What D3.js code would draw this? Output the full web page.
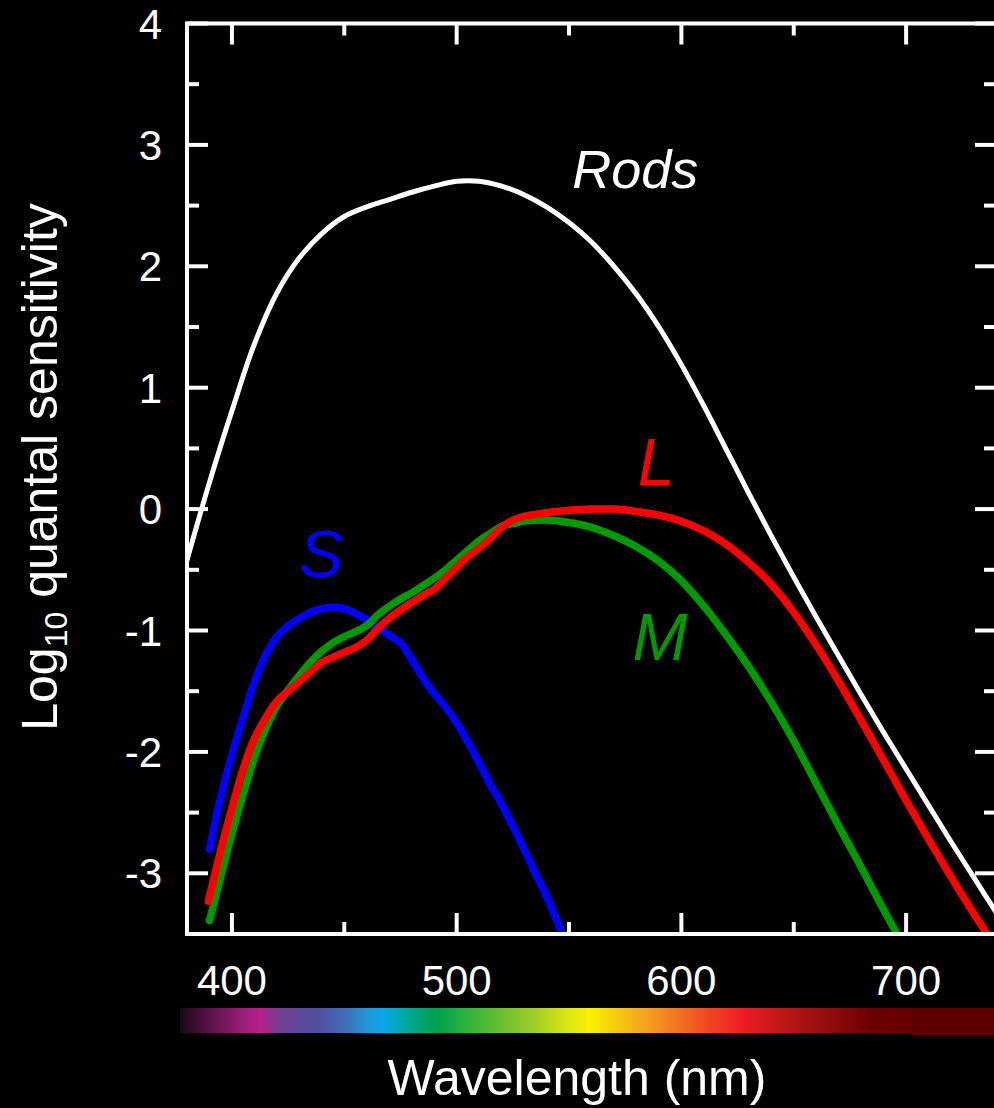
<!DOCTYPE html>
<html>
<head>
<meta charset="utf-8">
<script src="https://cdn.jsdelivr.net/npm/d3@7"></script>
<style>
  html, body { margin: 0; padding: 0; background: #000; }
  svg { display: block; }
  text { font-family: "Liberation Sans", Arial, Helvetica, sans-serif; fill: #fff; }
</style>
</head>
<body>
<svg id="chart" width="994" height="1108"></svg>
<script>
// Spectral sensitivity (log10 quantal) of rods and the three cone classes
const rodsNm  = [380, 390, 400, 410, 420, 430, 440, 450, 460, 470, 480, 490, 500, 510, 520, 530, 540, 550, 560, 570, 580, 590, 600, 610, 620, 630, 640, 650, 660, 670, 680, 690, 700, 710, 720, 730, 740];
const rodsLog = [-0.42, 0.22, 0.81, 1.36, 1.78, 2.07, 2.27, 2.41, 2.49, 2.55, 2.61, 2.66, 2.70, 2.70, 2.66, 2.59, 2.49, 2.36, 2.20, 2.00, 1.77, 1.50, 1.19, 0.85, 0.49, 0.13, -0.22, -0.56, -0.89, -1.21, -1.53, -1.84, -2.14, -2.44, -2.74, -3.03, -3.32];

const sNm  = [390, 395, 400, 405, 410, 415, 420, 425, 430, 435, 440, 445, 450, 455, 460, 465, 470, 475, 480, 485, 490, 495, 500, 505, 510, 515, 520, 525, 530, 535, 540, 547];
const sLog = [-2.80, -2.37, -2.02, -1.71, -1.42, -1.20, -1.05, -0.96, -0.90, -0.85, -0.82, -0.81, -0.82, -0.86, -0.91, -0.97, -1.04, -1.10, -1.24, -1.39, -1.52, -1.63, -1.76, -1.92, -2.09, -2.27, -2.43, -2.61, -2.80, -3.00, -3.19, -3.50];

const lNm  = [389.5, 395, 400, 405, 410, 415, 420, 425, 430, 435, 440, 445, 450, 455, 460, 465, 470, 475, 480, 485, 490, 495, 500, 505, 510, 515, 520, 525, 530, 540, 550, 560, 570, 580, 590, 600, 610, 620, 630, 640, 650, 660, 670, 680, 690, 700, 710, 720, 730, 736];
const lLog = [-3.23, -2.81, -2.46, -2.14, -1.89, -1.72, -1.58, -1.50, -1.42, -1.34, -1.26, -1.22, -1.18, -1.14, -1.08, -0.98, -0.90, -0.83, -0.77, -0.71, -0.66, -0.57, -0.48, -0.39, -0.32, -0.24, -0.15, -0.09, -0.06, -0.03, -0.01, 0.0, 0.0, -0.02, -0.05, -0.10, -0.18, -0.29, -0.44, -0.62, -0.85, -1.12, -1.42, -1.74, -2.07, -2.40, -2.72, -3.03, -3.33, -3.50];

const mNm  = [390, 395, 398, 400, 405, 410, 415, 420, 425, 430, 435, 440, 445, 450, 455, 460, 465, 470, 475, 480, 485, 490, 495, 500, 505, 510, 515, 520, 525, 530, 540, 550, 560, 570, 580, 590, 600, 610, 620, 630, 640, 650, 660, 670, 680, 690, 696];
const mLog = [-3.39, -3.03, -2.81, -2.67, -2.35, -2.05, -1.81, -1.62, -1.49, -1.37, -1.26, -1.17, -1.10, -1.05, -1.01, -0.96, -0.87, -0.80, -0.74, -0.69, -0.63, -0.57, -0.50, -0.42, -0.34, -0.26, -0.20, -0.14, -0.12, -0.10, -0.09, -0.11, -0.15, -0.22, -0.31, -0.43, -0.59, -0.80, -1.04, -1.30, -1.59, -1.91, -2.26, -2.61, -2.95, -3.30, -3.50];

// Axis ticks
const xMajorTicks = [400, 500, 600, 700];
const xMinorTicks = [450, 550, 650];
const yMajorTicks = [-3, -2, -1, 0, 1, 2, 3, 4];
const yMinorTicks = [-3.5, -2.5, -1.5, -0.5, 0.5, 1.5, 2.5, 3.5];

// Visible-spectrum colour strip (wavelength, colour)
const spectrumNm     = [376.9, 387.1, 402.3, 412.5, 421.4, 431.6, 439.2, 451.2, 461.5, 467.2, 479.3, 491.3, 501.5, 520.7, 535.8, 550.5, 559.4, 584.7, 599.4, 614.1, 627.5, 644.0, 666.2, 684.0, 702.7];
const spectrumColors = ["#1a0814", "#4c1040", "#901c70", "#b8208c", "#703f92", "#5a4a9c", "#5050a0", "#3c72ba", "#1c9cdc", "#08a8e8", "#00a890", "#00a04a", "#22b040", "#6cc030", "#a4d024", "#e0e810", "#f8f000", "#f5a020", "#f07020", "#f04020", "#ee1c24", "#c01818", "#900c0c", "#6c0000", "#680000"];
const spectrumTailNm = [702.7, 740];
const spectrumTailColor = "#5c0000";

const series = [
  { name: "Rods", nm: rodsNm, val: rodsLog, color: "#ffffff", width: 5 },
  { name: "S",    nm: sNm,    val: sLog,    color: "#0000ff", width: 7.5 },
  { name: "M",    nm: mNm,    val: mLog,    color: "#009a00", width: 7.5 },
  { name: "L",    nm: lNm,    val: lLog,    color: "#ff0000", width: 7.5 }
];

// Curve names, placed in data coordinates (label centre, baseline)
const curveLabels = [
  { text: "Rods", nm: 579.5, v: 2.645, color: "#ffffff", size: 54 },
  { text: "L",    nm: 588.7, v: 0.20,  color: "#ff0000", size: 66 },
  { text: "S",    nm: 439.6, v: -0.56, color: "#0000ff", size: 66 },
  { text: "M",    nm: 590.5, v: -1.24, color: "#009a00", size: 66 }
];

const svg = d3.select("#chart");
const W = 994, H = 1108;
svg.append("rect").attr("width", W).attr("height", H).attr("fill", "#000");

const x = d3.scaleLinear().domain([380, 740]).range([187, 996]);
const y = d3.scaleLinear().domain([-3.5, 4]).range([934, 23.5]);

const [x0, x1] = x.range();
const [yb, yt] = y.range();

// clip region for the curves
svg.append("defs").append("clipPath").attr("id", "plotClip")
  .append("rect").attr("x", x0).attr("y", yt).attr("width", x1 - x0).attr("height", yb - yt);

const line = d3.line()
  .x(d => x(d[0]))
  .y(d => y(d[1]))
  .curve(d3.curveCatmullRom.alpha(0.5));

const curves = svg.append("g").attr("clip-path", "url(#plotClip)");
series.forEach(s => {
  curves.append("path")
    .datum(s.nm.map((n, i) => [n, s.val[i]]))
    .attr("d", line)
    .attr("fill", "none")
    .attr("stroke", s.color)
    .attr("stroke-width", s.width)
    .attr("stroke-linejoin", "round")
    .attr("stroke-linecap", "round");
});

// frame
const axisColor = "#ffffff";
svg.append("rect")
  .attr("x", x0).attr("y", yt).attr("width", x1 - x0).attr("height", yb - yt)
  .attr("fill", "none").attr("stroke", axisColor).attr("stroke-width", 4);

const major = 21, minor = 12;
const ticks = svg.append("g").attr("stroke", axisColor).attr("stroke-width", 4);
function xTick(v, len) {
  ticks.append("line").attr("x1", x(v)).attr("x2", x(v)).attr("y1", yb).attr("y2", yb - len);
  ticks.append("line").attr("x1", x(v)).attr("x2", x(v)).attr("y1", yt).attr("y2", yt + len);
}
function yTick(v, len) {
  ticks.append("line").attr("x1", x0).attr("x2", x0 + len).attr("y1", y(v)).attr("y2", y(v));
  ticks.append("line").attr("x1", x1).attr("x2", x1 - len).attr("y1", y(v)).attr("y2", y(v));
}
xMajorTicks.forEach(v => xTick(v, major));
xMinorTicks.forEach(v => xTick(v, minor));
yMajorTicks.forEach(v => yTick(v, major));
yMinorTicks.forEach(v => yTick(v, minor));

// tick labels
svg.append("g").selectAll("text").data(xMajorTicks).join("text")
  .attr("x", d => x(d)).attr("y", 995)
  .attr("text-anchor", "middle").attr("font-size", 42)
  .text(d => d3.format("d")(d));

svg.append("g").selectAll("text").data(yMajorTicks).join("text")
  .attr("x", 162).attr("y", d => y(d)).attr("dy", "0.36em")
  .attr("text-anchor", "end").attr("font-size", 42)
  .text(d => d < 0 ? "-" + Math.abs(d) : String(d));

// spectrum strip
const grad = svg.select("defs").append("linearGradient")
  .attr("id", "spectrum").attr("gradientUnits", "userSpaceOnUse")
  .attr("x1", x(spectrumNm[0])).attr("x2", x(spectrumNm[spectrumNm.length - 1]))
  .attr("y1", 0).attr("y2", 0);
const span = spectrumNm[spectrumNm.length - 1] - spectrumNm[0];
spectrumNm.forEach((n, i) => {
  grad.append("stop").attr("offset", (n - spectrumNm[0]) / span).attr("stop-color", spectrumColors[i]);
});
svg.append("rect")
  .attr("x", x(spectrumNm[0])).attr("y", 1008)
  .attr("width", x(spectrumNm[spectrumNm.length - 1]) - x(spectrumNm[0]) + 0.5).attr("height", 25)
  .attr("fill", "url(#spectrum)");
svg.append("rect")
  .attr("x", x(spectrumTailNm[0])).attr("y", 1008)
  .attr("width", x(spectrumTailNm[1]) - x(spectrumTailNm[0])).attr("height", 27)
  .attr("fill", spectrumTailColor);

// axis titles
svg.append("text")
  .attr("x", 577).attr("y", 1095)
  .attr("text-anchor", "middle").attr("font-size", 50)
  .text("Wavelength (nm)");

const yTitle = svg.append("text")
  .attr("transform", "translate(57,467) rotate(-90)")
  .attr("text-anchor", "middle").attr("font-size", 50);
yTitle.append("tspan").text("Log");
yTitle.append("tspan").attr("font-size", 32).attr("dy", 10).text("10");
yTitle.append("tspan").attr("dy", -10).text(" quantal sensitivity");

// curve labels
svg.append("g").selectAll("text").data(curveLabels).join("text")
  .attr("x", d => x(d.nm)).attr("y", d => y(d.v))
  .attr("text-anchor", "middle")
  .attr("font-style", "italic")
  .attr("font-size", d => d.size)
  .style("fill", d => d.color)
  .text(d => d.text);
</script>
</body>
</html>
